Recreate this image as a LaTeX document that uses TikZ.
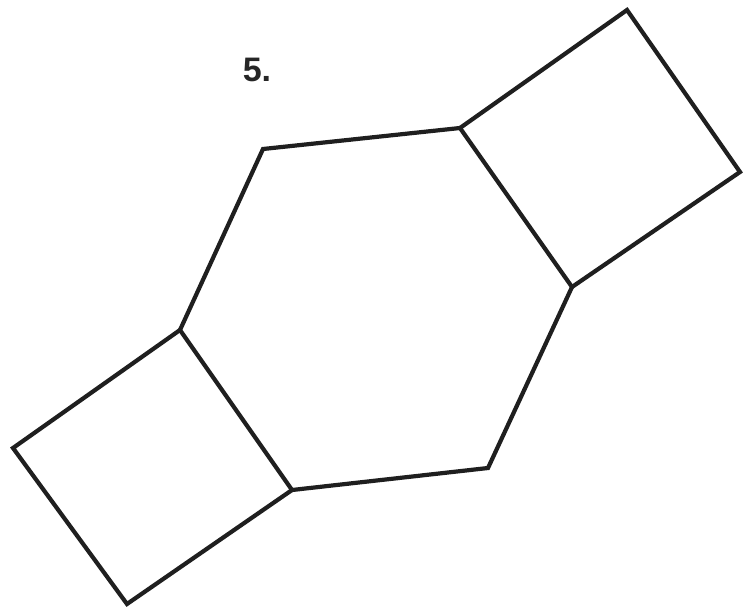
\documentclass[tikz,border=0pt]{standalone}
\usepackage{fontspec}
\setmainfont{Liberation Sans}
\begin{document}
\begin{tikzpicture}[x=1pt,y=-1pt,
  edge/.style={draw=black!88, line width=4.2pt, line join=miter, line cap=round},
  lbl/.style={font=\fontsize{34}{34}\selectfont\bfseries, text=black!85, inner sep=0pt}]
\useasboundingbox (0,0) rectangle (754,613);
% hexagon
\coordinate (h1) at (263,149);
\coordinate (h2) at (460,128);
\coordinate (h3) at (572,287);
\coordinate (h4) at (488,468);
\coordinate (h5) at (292,490);
\coordinate (h6) at (180,330);
% top-right square
\coordinate (s1) at (627,10);
\coordinate (s2) at (740,172);
% bottom-left square
\coordinate (t1) at (127,604);
\coordinate (t2) at (13,448);
\draw[edge] (h1) -- (h2) -- (h3) -- (h4) -- (h5) -- (h6) -- cycle;
\draw[edge] (h2) -- (s1) -- (s2) -- (h3);
\draw[edge] (h5) -- (t1) -- (t2) -- (h6);
\node[lbl] (five) at (257,70) {5.};
\end{tikzpicture}
\end{document}
